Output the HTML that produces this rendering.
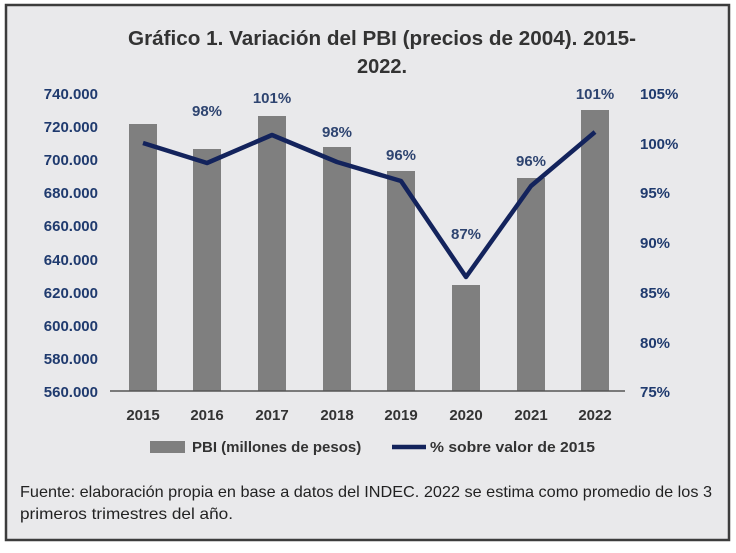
<!DOCTYPE html>
<html><head><meta charset="utf-8"><style>
body{margin:0;background:#fff;}
</style></head><body>
<svg width="736" height="548" xmlns="http://www.w3.org/2000/svg" font-family="Liberation Sans, sans-serif">
<rect x="0" y="0" width="736" height="548" fill="#fff"/>
<rect x="6" y="5" width="723" height="535" fill="#e9e9eb" stroke="#3c3c3c" stroke-width="2.5"/>
<g font-weight="bold" font-size="20" fill="#333" text-anchor="middle">
<text x="382" y="45" textLength="508" lengthAdjust="spacingAndGlyphs">Gráfico 1. Variación del PBI (precios de 2004). 2015-</text>
<text x="382" y="73">2022.</text>
</g>
<g font-weight="bold" font-size="15" fill="#1f3a6e" text-anchor="end">
<text x="98" y="99">740.000</text><text x="98" y="132">720.000</text><text x="98" y="165">700.000</text>
<text x="98" y="198">680.000</text><text x="98" y="231">660.000</text><text x="98" y="265">640.000</text>
<text x="98" y="298">620.000</text><text x="98" y="331">600.000</text><text x="98" y="364">580.000</text>
<text x="98" y="397">560.000</text>
</g>
<g font-weight="bold" font-size="15" fill="#1f3a6e">
<text x="640" y="99">105%</text><text x="640" y="149">100%</text><text x="640" y="198">95%</text>
<text x="640" y="248">90%</text><text x="640" y="298">85%</text><text x="640" y="348">80%</text>
<text x="640" y="397">75%</text>
</g>
<g fill="#7f7f7f">
<rect x="129" y="124" width="28" height="267"/>
<rect x="193" y="149" width="28" height="242"/>
<rect x="258" y="116" width="28" height="275"/>
<rect x="323" y="147" width="28" height="244"/>
<rect x="387" y="171" width="28" height="220"/>
<rect x="452" y="285" width="28" height="106"/>
<rect x="517" y="178" width="28" height="213"/>
<rect x="581" y="110" width="28" height="281"/>
</g>
<line x1="110" y1="391" x2="625" y2="391" stroke="#555" stroke-width="1.5"/>
<polyline points="143,143 207,163 272,135 337,162 401,181 466,277 531,186 595,132" fill="none" stroke="#13235c" stroke-width="4.5" stroke-linejoin="round"/>
<g font-weight="bold" font-size="15" fill="#2e4470" text-anchor="middle">
<text x="207" y="116">98%</text><text x="272" y="103">101%</text><text x="337" y="137">98%</text>
<text x="401" y="160">96%</text><text x="466" y="239">87%</text><text x="531" y="166">96%</text>
<text x="595" y="99">101%</text>
</g>
<g font-weight="bold" font-size="15" fill="#333" text-anchor="middle">
<text x="143" y="420">2015</text><text x="207" y="420">2016</text><text x="272" y="420">2017</text>
<text x="337" y="420">2018</text><text x="401" y="420">2019</text><text x="466" y="420">2020</text>
<text x="531" y="420">2021</text><text x="595" y="420">2022</text>
</g>
<rect x="150" y="441" width="35" height="12" fill="#7f7f7f"/>
<text x="192" y="452" font-weight="bold" font-size="15" fill="#333">PBI (millones de pesos)</text>
<line x1="392" y1="447" x2="426" y2="447" stroke="#13235c" stroke-width="4.5"/>
<text x="430" y="452" font-weight="bold" font-size="15" fill="#333" textLength="165" lengthAdjust="spacingAndGlyphs">% sobre valor de 2015</text>
<g font-size="16" fill="#222">
<text x="20" y="497" textLength="692" lengthAdjust="spacingAndGlyphs">Fuente: elaboración propia en base a datos del INDEC. 2022 se estima como promedio de los 3</text>
<text x="20" y="519" textLength="213" lengthAdjust="spacingAndGlyphs">primeros trimestres del año.</text>
</g>
</svg>
</body></html>
